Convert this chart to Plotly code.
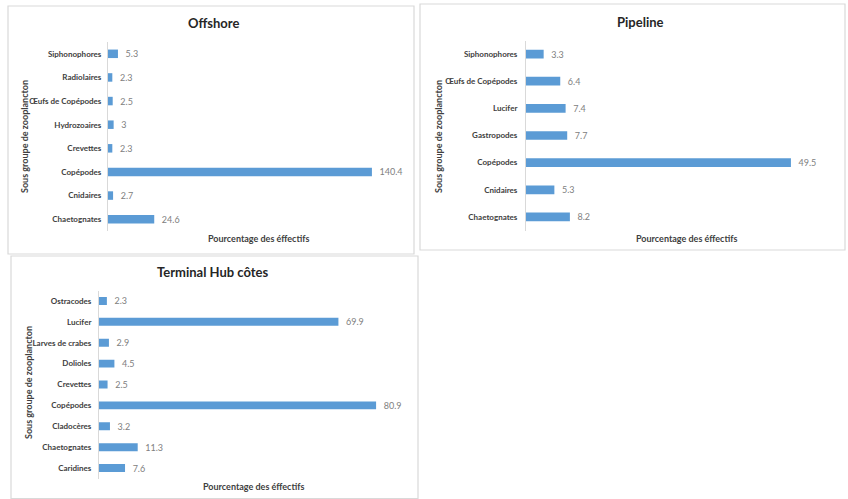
import plotly.graph_objects as go

W, H = 848, 499

# ---- data ----
off_cats = ["Chaetognates", "Cnidaires", "Copépodes", "Crevettes", "Hydrozoaires",
            "Œufs de Copépodes", "Radiolaires", "Siphonophores"]
off_vals = [24.6, 2.7, 140.4, 2.3, 3, 2.5, 2.3, 5.3]

pip_cats = ["Chaetognates", "Cnidaires", "Copépodes", "Gastropodes", "Lucifer",
            "Œufs de Copépodes", "Siphonophores"]
pip_vals = [8.2, 5.3, 49.5, 7.7, 7.4, 6.4, 3.3]

ter_cats = ["Caridines", "Chaetognates", "Cladocères", "Copépodes", "Crevettes",
            "Dolioles", "Larves de crabes", "Lucifer", "Ostracodes"]
ter_vals = [7.6, 11.3, 3.2, 80.9, 2.5, 4.5, 2.9, 69.9, 2.3]

titles = ["Offshore", "Pipeline", "Terminal Hub côtes"]
xtitle = "Pourcentage des éffectifs"
ytitle = "Sous groupe de zooplancton"

FONT = "Lato, Open Sans, sans-serif"
BAR = "#5b9bd5"
LBL = "#808080"
TXT = "#404040"


def px(x):
    return x / W


def py(y):
    return 1 - y / H


fig = go.Figure()

panels = [
    dict(cats=off_cats, vals=off_vals, x0=108, x1=405, xmax=158.0, yt=42, yb=231, gap=0.64,
         box=(8, 6, 414, 254), tpos=(213, 23), xtpos=(258, 238), ytpos=(25, 137), tl=4),
    dict(cats=pip_cats, vals=pip_vals, x0=526, x1=830, xmax=56.8, yt=40.5, yb=230.5, gap=0.68,
         box=(420, 4, 845, 250), tpos=(640, 22), xtpos=(686, 238), ytpos=(439, 137), tl=6),
    dict(cats=ter_cats, vals=ter_vals, x0=99, x1=410, xmax=90.8, yt=290.5, yb=478.5, gap=0.62,
         box=(11, 256, 418, 498.5), tpos=(213, 272), xtpos=(253, 486), ytpos=(28, 383), tl=5),
]

shapes = []
annotations = []
for i, p in enumerate(panels):
    n = "" if i == 0 else str(i + 1)
    fig.add_trace(go.Bar(
        x=p["vals"], y=p["cats"], orientation="h",
        xaxis="x" + n, yaxis="y" + n,
        marker=dict(color=BAR, line=dict(width=0)),
        width=1 - p["gap"],
        text=["\u00a0\u00a0" + str(v) for v in p["vals"]], textposition="outside",
        constraintext="none",
        textfont=dict(family=FONT, size=9, color=LBL),
        cliponaxis=False, showlegend=False, hoverinfo="x+y",
    ))
    fig.update_layout(**{
        "xaxis" + n: dict(domain=[px(p["x0"]), px(p["x1"])], range=[0, p["xmax"]],
                          anchor="y" + n, showgrid=False, zeroline=False, automargin=False,
                          showticklabels=False, showline=False, ticks=""),
        "yaxis" + n: dict(domain=[py(p["yb"]), py(p["yt"])], anchor="x" + n,
                          type="category", categoryorder="array", categoryarray=p["cats"],
                          showgrid=False, zeroline=False, showline=True, automargin=False,
                          linecolor="#d9d9d9", linewidth=1,
                          ticks="outside", ticklen=p["tl"], tickcolor="rgba(0,0,0,0)",
                          tickfont=dict(family=FONT, size=8, color=TXT, weight="bold")),
    })
    bx0, by0, bx1, by1 = p["box"]
    shapes.append(dict(type="rect", xref="paper", yref="paper",
                       x0=px(bx0), x1=px(bx1), y0=py(by1), y1=py(by0),
                       line=dict(color="#d9d9d9", width=1.2), layer="below"))
    annotations.append(dict(text=titles[i], xref="paper", yref="paper",
                            x=px(p["tpos"][0]), y=py(p["tpos"][1]), showarrow=False,
                            xanchor="center", yanchor="middle",
                            font=dict(family=FONT, size=13, color="#262626", weight="bold")))
    annotations.append(dict(text=xtitle, xref="paper", yref="paper",
                            x=px(p["xtpos"][0]), y=py(p["xtpos"][1]), showarrow=False,
                            xanchor="center", yanchor="middle",
                            font=dict(family=FONT, size=9, color=TXT, weight="bold")))
    annotations.append(dict(text=ytitle, xref="paper", yref="paper", textangle=-90,
                            x=px(p["ytpos"][0]), y=py(p["ytpos"][1]), showarrow=False,
                            xanchor="center", yanchor="middle",
                            font=dict(family=FONT, size=9, color=TXT, weight="bold")))

fig.update_layout(
    width=W, height=H, margin=dict(l=0, r=0, t=0, b=0),
    paper_bgcolor="white", plot_bgcolor="white",
    shapes=shapes, annotations=annotations,
    font=dict(family=FONT),
)

fig.write_html("out.html", config={"displayModeBar": False})

# remove the default body margin so the figure sits at the window origin
with open("out.html", "r", encoding="utf-8") as f:
    html = f.read()
html = html.replace("<body>", '<body style="margin:0;padding:0;overflow:hidden">', 1)
with open("out.html", "w", encoding="utf-8") as f:
    f.write(html)
